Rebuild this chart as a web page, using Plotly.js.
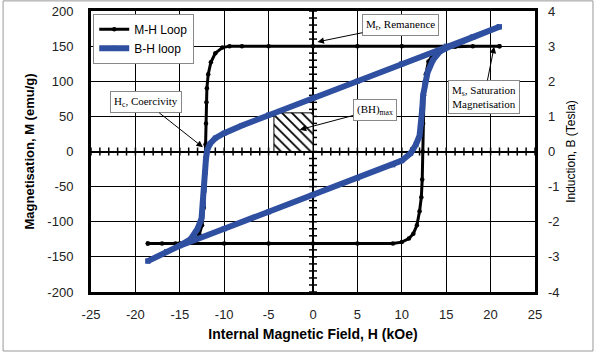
<!DOCTYPE html>
<html>
<head>
<meta charset="utf-8">
<script src="https://cdn.plot.ly/plotly-3.0.1.min.js"></script>
<style>html,body{margin:0;padding:0;background:#fff;}#chart{width:596px;height:355px;}</style>
</head>
<body>
<div id="chart"></div>
<script>
// M-H loop: field H (kOe) and magnetisation M (emu/g)
var mhH = [21, 15, 10, 5, 0, -5, -8, -9.4, -10.2, -11.0, -11.5, -11.8, -11.95, -12.0, -12.05, -12.1, -12.15, -12.2, -12.3, -12.5, -12.8, -13.3, -14.2, -15.5, -17, -18.6,
            -18.6, -15, -10, -5, 0, 5, 9, 10, 10.8, 11.3, 11.7, 12.0, 12.2, 12.3, 12.35, 12.4, 12.5, 12.7, 13.0, 13.6, 14.5, 16, 18, 21];
var mhM = [150, 150, 150, 150, 150, 150, 150, 150, 148, 140, 127, 110, 90, 70, 40, 10, -20, -50, -80, -105, -118, -126, -130, -131, -131, -131,
           -131, -131, -131, -131, -131, -131, -131, -129, -124, -117, -105, -85, -65, -40, 0, 40, 80, 110, 128, 140, 146, 149, 150, 150];

// B-H loop: field H (kOe) and induction B (Tesla)
var bhH = [21, 18, 15, 10, 5, 0, -5, -8, -10, -11, -11.6, -11.9, -12.05, -12.15, -12.25, -12.35, -12.55, -13.0, -13.8, -15, -16.5, -18.6,
           -18.6, -15, -10, -5, 0, 5, 9, 10, 11.0, 11.6, 12.0, 12.2, 12.3, 12.4, 12.6, 12.9, 13.5, 14.3, 15.5, 18, 21];
var bhB = [3.55, 3.26, 3.0, 2.5, 2.0, 1.52, 1.04, 0.74, 0.52, 0.38, 0.22, 0.05, -0.2, -0.6, -1.1, -1.5, -1.9, -2.2, -2.5, -2.68, -2.85, -3.12,
           -3.12, -2.68, -2.2, -1.72, -1.24, -0.76, -0.38, -0.26, -0.05, 0.2, 0.45, 0.8, 1.2, 1.6, 1.95, 2.25, 2.6, 2.85, 3.0, 3.26, 3.55];

// (BH)max hatched area corners (H in kOe, M in emu/g)
var bhmaxH = [-4.4, 0, 0, -4.4, -4.4];
var bhmaxM = [0, 0, 55, 55, 0];

var xTicks = [-25, -20, -15, -10, -5, 0, 5, 10, 15, 20, 25];
var yTicks = [-200, -150, -100, -50, 0, 50, 100, 150, 200];
var y2Ticks = [-4, -3, -2, -1, 0, 1, 2, 3, 4];

var blue = '#2F4FA0';

var traces = [
  {x: bhmaxH, y: bhmaxM, type: 'scatter', mode: 'lines', fill: 'toself',
   fillcolor: 'white', fillpattern: {shape: '\\', fgcolor: 'black', bgcolor: 'white', size: 7, solidity: 0.25},
   line: {color: 'black', width: 1}, showlegend: false, hoverinfo: 'skip'},
  {x: mhH, y: mhM, type: 'scatter', mode: 'lines+markers', name: 'M-H Loop',
   line: {color: 'black', width: 3}, marker: {color: 'black', size: 4.5, symbol: 'circle'}},
  {x: bhH, y: bhB, yaxis: 'y2', type: 'scatter', mode: 'lines+markers', name: 'B-H loop',
   line: {color: blue, width: 6}, marker: {color: blue, size: 5, symbol: 'square'}}
];

var shapes = [];
for (var i = -25; i <= 25; i++) {
  shapes.push({type: 'line', xref: 'x', yref: 'y', x0: i, x1: i, ysizemode: 'pixel', yanchor: 0, y0: -4, y1: 4,
               line: {color: 'black', width: 1.5}, layer: 'between'});
}
for (var j = -200; j <= 200; j += 10) {
  shapes.push({type: 'line', xref: 'x', yref: 'y', y0: j, y1: j, xsizemode: 'pixel', xanchor: 0, x0: -4, x1: 4,
               line: {color: 'black', width: 1.5}, layer: 'between'});
}
// outer picture frame
shapes.push({type: 'rect', xref: 'paper', yref: 'paper', x0: -0.198, x1: 1.1306, y0: -0.21, y1: 1.036,
             line: {color: '#999', width: 1}, layer: 'above'});

var boxFont = {family: 'Liberation Serif, Times New Roman, serif', size: 11, color: 'black'};
function callout(x, y, ax, ay, text) {
  return {x: x, y: y, xref: 'x', yref: 'y', text: text, showarrow: true, ax: ax, ay: ay,
          arrowhead: 2, arrowsize: 1.3, arrowwidth: 1, arrowcolor: 'black', standoff: 0,
          font: boxFont, bgcolor: 'white', bordercolor: '#888', borderwidth: 1, borderpad: 3};
}

var annotations = [
  callout(0.5, 156, 83, -17, 'M<sub>r</sub>, Remanence'),
  callout(-12.4, 6, -57, -45, 'H<sub>c</sub>, Coercivity'),
  callout(-1.5, 31, 75, -20, '(BH)<sub>max</sub>'),
  callout(20.4, 149, -10, 50, 'M<sub>s</sub>, Saturation<br>Magnetisation')
];

var tickFont = {family: 'Liberation Sans, Arial, sans-serif', size: 13, color: '#222'};

var layout = {
  width: 596, height: 355,
  margin: {l: 91, r: 61, t: 11, b: 63},
  paper_bgcolor: 'white', plot_bgcolor: 'white',
  font: {family: 'Liberation Sans, Arial, sans-serif', color: 'black'},
  showlegend: true,
  legend: {x: 0.005, y: 0.99, xanchor: 'left', yanchor: 'top', bgcolor: 'white', bordercolor: '#888', borderwidth: 1,
           font: {family: 'Liberation Sans, Arial, sans-serif', size: 12, color: 'black'}, tracegroupgap: 0, itemwidth: 30},
  xaxis: {range: [-25, 25], tickvals: xTicks, ticktext: xTicks.map(String), showgrid: true, gridcolor: 'black', gridwidth: 1,
          zeroline: true, zerolinecolor: 'black', zerolinewidth: 2, showline: true, mirror: true, linecolor: 'black', linewidth: 3,
          ticks: '', ticklabelstandoff: 8, tickfont: tickFont,
          title: {text: 'Internal Magnetic Field, H (kOe)', font: {family: 'Liberation Sans, Arial, sans-serif', size: 14, color: 'black', weight: 'bold'}, standoff: 9}},
  yaxis: {range: [-200, 200], tickvals: yTicks, ticktext: yTicks.map(String), showgrid: true, gridcolor: 'black', gridwidth: 1,
          zeroline: true, zerolinecolor: 'black', zerolinewidth: 2, showline: true, mirror: true, linecolor: 'black', linewidth: 3,
          ticks: '', ticklabelstandoff: 12, tickfont: tickFont,
          title: {text: 'Magnetisation, M (emu/g)', font: {family: 'Liberation Sans, Arial, sans-serif', size: 13, color: 'black', weight: 'bold'}, standoff: 10}},
  yaxis2: {range: [-4, 4], tickvals: y2Ticks, ticktext: y2Ticks.map(String), overlaying: 'y', side: 'right', showgrid: false,
           zeroline: false, showline: false, ticks: '', ticklabelstandoff: 12, tickfont: tickFont,
           title: {text: 'Induction, B (Tesla)', font: {family: 'Liberation Sans, Arial, sans-serif', size: 12, color: 'black'}, standoff: 8}},
  shapes: shapes,
  annotations: annotations
};

Plotly.newPlot('chart', traces, layout, {displayModeBar: false, staticPlot: true});
</script>
</body>
</html>
